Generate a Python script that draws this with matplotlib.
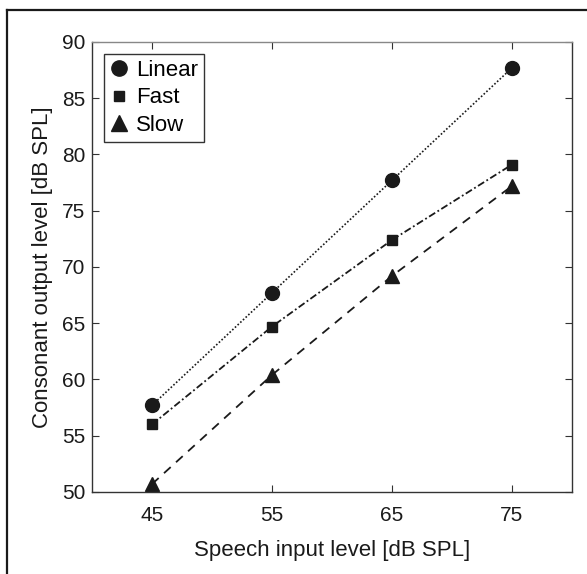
import matplotlib
matplotlib.use('Agg')
import matplotlib.pyplot as plt
from matplotlib.lines import Line2D

plt.rcParams['font.family'] = ['Liberation Sans', 'DejaVu Sans']

# data
speech_level = [45, 55, 65, 75]
linear = [57.7, 67.7, 77.7, 87.7]
fast = [56.0, 64.7, 72.4, 79.1]
slow = [50.7, 60.4, 69.2, 77.2]

fig = plt.figure(figsize=(5.87, 5.74), dpi=100)
ax = fig.add_axes([0.1567, 0.1429, 0.8177, 0.784])

ax.plot(speech_level, linear, color='#1a1a1a', linestyle=(0, (1, 1.2)), linewidth=1.2,
        marker='o', markersize=10, label='Linear')
ax.plot(speech_level, fast, color='#1a1a1a', linestyle=(0, (4, 1.5, 1, 1.5)), linewidth=1.3,
        marker='s', markersize=7, label='Fast')
ax.plot(speech_level, slow, color='#1a1a1a', linestyle=(0, (5, 4)), linewidth=1.3,
        marker='^', markersize=10, label='Slow')

ax.set_xlim(40, 80)
ax.set_ylim(50, 90)
ax.set_xticks(speech_level)
ax.set_yticks(range(50, 91, 5))
ax.tick_params(direction='in', top=True, right=True, labelsize=15, length=5,
               color='#333333', labelcolor='#1a1a1a', pad=5)
ax.tick_params(axis='x', pad=10)
for s in ax.spines.values():
    s.set_color('#333333')
    s.set_linewidth(1.0)
ax.spines['top'].set_color('#888888')

ax.set_xlabel('Speech input level [dB SPL]', fontsize=16, color='#1a1a1a', labelpad=11)
ax.set_ylabel('Consonant output level [dB SPL]', fontsize=16, color='#1a1a1a', labelpad=6)

leg = ax.legend(loc='upper left', fontsize=16, frameon=True, fancybox=False,
                edgecolor='#333333', handlelength=0.8, handletextpad=0.4,
                borderpad=0.25, labelspacing=0.3, borderaxespad=0.55,
                framealpha=1, markerscale=1.1)
leg.get_frame().set_linewidth(1.0)
for h in leg.legend_handles:
    h.set_linestyle('none')

# partial frame (top and left edges only) as in the source image
fx = 7 / 587
fy = 1 - 10 / 574
fig.add_artist(Line2D([fx, fx], [0, fy], transform=fig.transFigure,
                      color='#1a1a1a', linewidth=1.6, solid_capstyle='projecting'))
fig.add_artist(Line2D([fx, 1], [fy, fy], transform=fig.transFigure,
                      color='#1a1a1a', linewidth=1.6, solid_capstyle='projecting'))

fig.savefig('out.png', dpi=100)
